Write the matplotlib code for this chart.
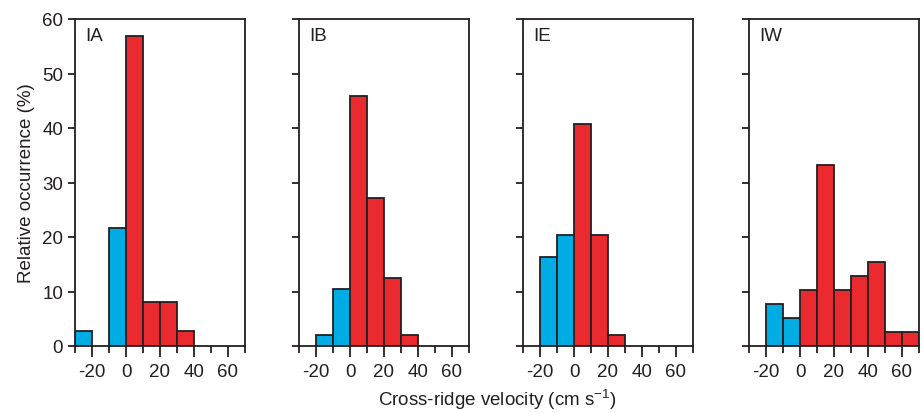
import numpy as np
import matplotlib.pyplot as plt

plt.rcParams['font.family'] = ['Liberation Sans', 'DejaVu Sans']
plt.rcParams['axes.unicode_minus'] = False
plt.rcParams['mathtext.fontset'] = 'custom'
plt.rcParams['mathtext.rm'] = 'Liberation Sans'

# bin left edges (cm s-1), bin width 10
bin_edges = [-30, -20, -10, 0, 10, 20, 30, 40, 50, 60]
panel_names = ['IA', 'IB', 'IE', 'IW']

# relative occurrence (%) per bin
occ_IA = [2.7, 0.0, 21.6, 56.8, 8.1, 8.1, 2.7, 0.0, 0.0, 0.0]
occ_IB = [0.0, 2.1, 10.4, 45.8, 27.1, 12.5, 2.1, 0.0, 0.0, 0.0]
occ_IE = [0.0, 16.3, 20.4, 40.8, 20.4, 2.0, 0.0, 0.0, 0.0, 0.0]
occ_IW = [0.0, 7.7, 5.1, 10.3, 33.3, 10.3, 12.8, 15.4, 2.6, 2.6]
all_occ = [occ_IA, occ_IB, occ_IE, occ_IW]

blue = '#00ACE4'
red = '#EA2A2F'
dark = '#231F20'
lw = 1.3
fs = 13.5

fig = plt.figure(figsize=(9.24, 4.14), dpi=100)
lefts_px = [75, 299, 523, 749]
W, H = 924, 414

for i, (name, occ) in enumerate(zip(panel_names, all_occ)):
    ax = fig.add_axes([lefts_px[i] / W, 1 - 347 / H, 170 / W, (347 - 20) / H])
    edges = np.array(bin_edges)
    vals = np.array(occ)
    cols = [blue if e < 0 else red for e in edges]
    mask = vals > 0
    ax.bar(edges[mask], vals[mask], width=10, align='edge',
           color=np.array(cols)[mask], edgecolor=dark, linewidth=lw, zorder=2)

    ax.set_xlim(-30, 70)
    ax.set_ylim(0, 60)
    ax.set_xticks([-20, 0, 20, 40, 60])
    ax.set_xticks([-30, -10, 10, 30, 50, 70], minor=True)
    ax.set_yticks(np.arange(0, 61, 10))
    ax.tick_params(axis='x', which='major', direction='out', length=8, width=lw,
                   color=dark, labelsize=fs, pad=4, labelcolor=dark)
    ax.tick_params(axis='x', which='minor', direction='out', length=5, width=lw, color=dark)
    ax.tick_params(axis='y', direction='out', length=5, width=lw, color=dark,
                   labelsize=fs, labelcolor=dark)
    if i > 0:
        ax.tick_params(axis='y', labelleft=False)
    for s in ax.spines.values():
        s.set_linewidth(lw)
        s.set_color(dark)
    ax.text(0.06, 0.975, name, transform=ax.transAxes, ha='left', va='top',
            fontsize=fs, color=dark)
    if i == 0:
        ax.set_ylabel('Relative occurrence (%)', fontsize=fs, color=dark, labelpad=5)

fig.text(497 / W, 1 - 400 / H, 'Cross-ridge velocity (cm s$^{-1}$)', ha='center', va='center',
         fontsize=fs, color=dark)

fig.savefig('out.png', dpi=100)
